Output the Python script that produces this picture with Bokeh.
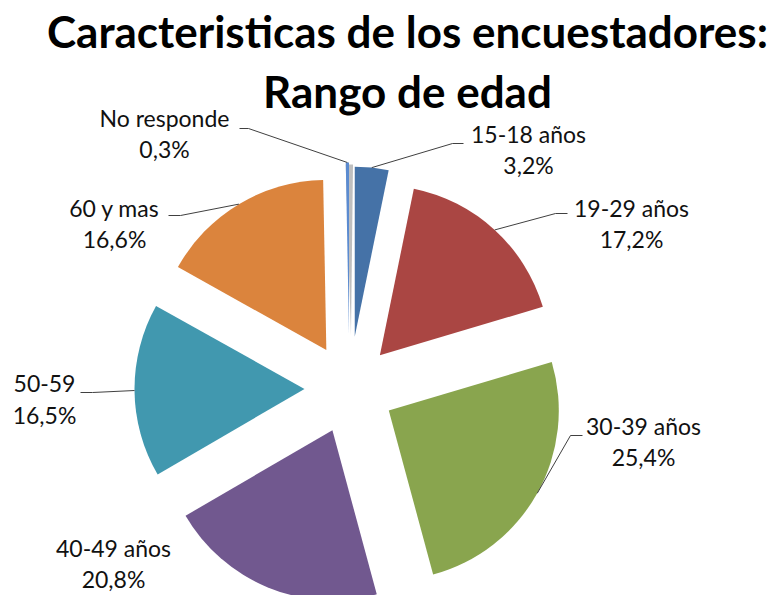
import math
from bokeh.plotting import figure
from bokeh.models import Range1d, ColumnDataSource
from bokeh.core.properties import value
from bokeh.embed import file_html
from bokeh.resources import INLINE

# ---- data ----
categories = ["15-18 años", "19-29 años", "30-39 años", "40-49 años", "50-59", "60 y mas", "No responde"]
values = [3.2, 17.2, 25.4, 20.8, 16.5, 16.6, 0.3]
colors = ["#4572A7", "#AA4643", "#89A54E", "#71588F", "#4198AF", "#DB843D", "#5B8BD0"]
title_lines = ["Caracteristicas de los encuestadores:", "Rango de edad"]

# ---- layout / style (screen pixel coords, y downward) ----
W, H = 778, 595
def Y(sy):
    return H - sy

CX, CY = 349, Y(388)
R = 170
explode = [52, 45, 45, 45, 45, 45, 56]
label_pos = [(528, 143), (631, 217), (643, 435), (113, 557), (44, 393), (114, 217), (164, 127)]
elbows = [[(452, 143), (463, 143)], [(555, 213), (567, 213)], [(570, 435), (582, 435)], None,
          [(92, 392), (80, 392)], [(180, 215), (168, 215)], [(248, 128), (239, 128)]]
LABEL_FONT = "Lato"
TITLE_FONT = "Lato"
LABEL_SIZE = "23px"
LINE_GAP = 31
LABEL_SHIFT = 10   # compensates renderer baseline offset
TITLE_SHIFT = 17

p = figure(width=W, height=H, x_range=Range1d(0, W), y_range=Range1d(0, H),
           output_backend="svg", toolbar_location=None, x_axis_type=None, y_axis_type=None,
           min_border=0)
p.grid.visible = False
p.outline_line_color = None
p.background_fill_color = "white"
p.border_fill_color = "white"

total = sum(values)
cum = 0.0
xs, ys, sa, ea = [], [], [], []
arc_pts = []
for v, e in zip(values, explode):
    t1 = cum / total * 360.0
    t2 = (cum + v) / total * 360.0
    cum += v
    b = math.radians((t1 + t2) / 2)
    cx = CX + e * math.sin(b)
    cy = CY + e * math.cos(b)
    xs.append(cx); ys.append(cy)
    sa.append(math.radians(90 - t2)); ea.append(math.radians(90 - t1))
    arc_pts.append((cx + R * math.sin(b), cy + R * math.cos(b)))

# subtle shadow for the thin slice
p.wedge(x=[xs[-1] + 2], y=[ys[-1] - 2], radius=R, start_angle=[sa[-1] - 0.012], end_angle=[ea[-1] + 0.012],
        fill_color="#000000", fill_alpha=0.25, line_color=None)

src = ColumnDataSource(dict(x=xs, y=ys, sa=sa, ea=ea, color=colors))
p.wedge(x="x", y="y", radius=R, start_angle="sa", end_angle="ea", fill_color="color",
        line_color=None, source=src)

# leader lines
for ap, el in zip(arc_pts, elbows):
    if el is None:
        continue
    lx = [ap[0]] + [q[0] for q in el]
    ly = [ap[1]] + [Y(q[1]) for q in el]
    p.line(lx, ly, line_color="#404040", line_width=1)

# labels
pct = [f"{v:.1f}".replace(".", ",") + "%" for v in values]
lx = [q[0] for q in label_pos]
p.text(x=lx, y=[Y(q[1] - LABEL_SHIFT) for q in label_pos], text=categories, text_align="center",
       text_baseline="alphabetic", text_font=value(LABEL_FONT), text_font_size=LABEL_SIZE,
       text_color="#111111")
p.text(x=lx, y=[Y(q[1] + LINE_GAP - LABEL_SHIFT) for q in label_pos], text=pct, text_align="center",
       text_baseline="alphabetic", text_font=value(LABEL_FONT), text_font_size=LABEL_SIZE,
       text_color="#111111")

# title
p.text(x=[407, 407], y=[Y(47 - TITLE_SHIFT), Y(107 - TITLE_SHIFT)], text=title_lines, text_align="center",
       text_baseline="alphabetic", text_font=value(TITLE_FONT), text_font_size="44px",
       text_font_style="bold", text_color="#000000")

open("out.html", "w").write(file_html(p, INLINE))
